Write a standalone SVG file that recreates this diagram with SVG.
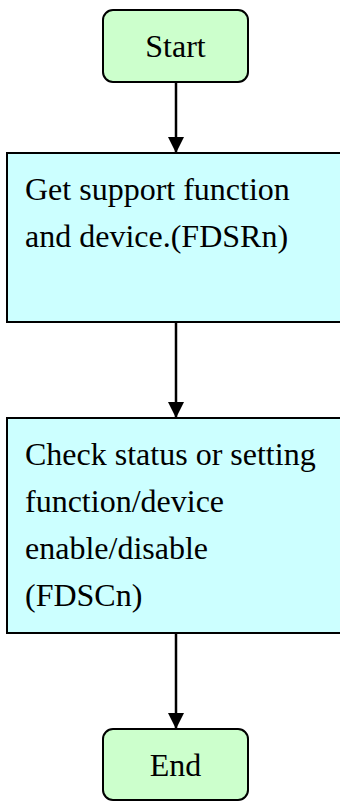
<svg xmlns="http://www.w3.org/2000/svg" width="340" height="801" viewBox="0 0 340 801">
<defs>
<style>
.term{fill:#ccffcc;stroke:#000;stroke-width:2}
.proc{fill:#ccffff;stroke:#000;stroke-width:2}
.t{font-family:"Liberation Serif","Times New Roman",serif;font-size:32px;fill:#000}
.c{text-anchor:middle}
.edge{stroke:#000;stroke-width:2.5;fill:none}
</style>
<marker id="arr" markerWidth="16" markerHeight="16" refX="16" refY="8" orient="auto" markerUnits="userSpaceOnUse">
<path d="M0,0 L16,8 L0,16 Z" fill="#000"/>
</marker>
</defs>
<g id="connectors">
<line class="edge" x1="176" y1="82" x2="176" y2="153" marker-end="url(#arr)"/>
<line class="edge" x1="176" y1="322" x2="176" y2="418" marker-end="url(#arr)"/>
<line class="edge" x1="176" y1="633" x2="176" y2="729" marker-end="url(#arr)"/>
</g>
<g id="start">
<rect class="term" x="103" y="10" width="145" height="72" rx="10"/>
<text class="t c" x="175.5" y="57">Start</text>
</g>
<g id="get-support">
<rect class="proc" x="7" y="153" width="345" height="169"/>
<text class="t" x="25" y="200">Get support function</text>
<text class="t" x="25" y="247">and device.(FDSRn)</text>
</g>
<g id="check-status">
<rect class="proc" x="7" y="418" width="345" height="215"/>
<text class="t" x="25" y="465">Check status or setting</text>
<text class="t" x="25" y="512">function/device</text>
<text class="t" x="25" y="559">enable/disable</text>
<text class="t" x="25" y="606">(FDSCn)</text>
</g>
<g id="end">
<rect class="term" x="103" y="729" width="145" height="71" rx="10"/>
<text class="t c" x="175.5" y="776">End</text>
</g>
</svg>
